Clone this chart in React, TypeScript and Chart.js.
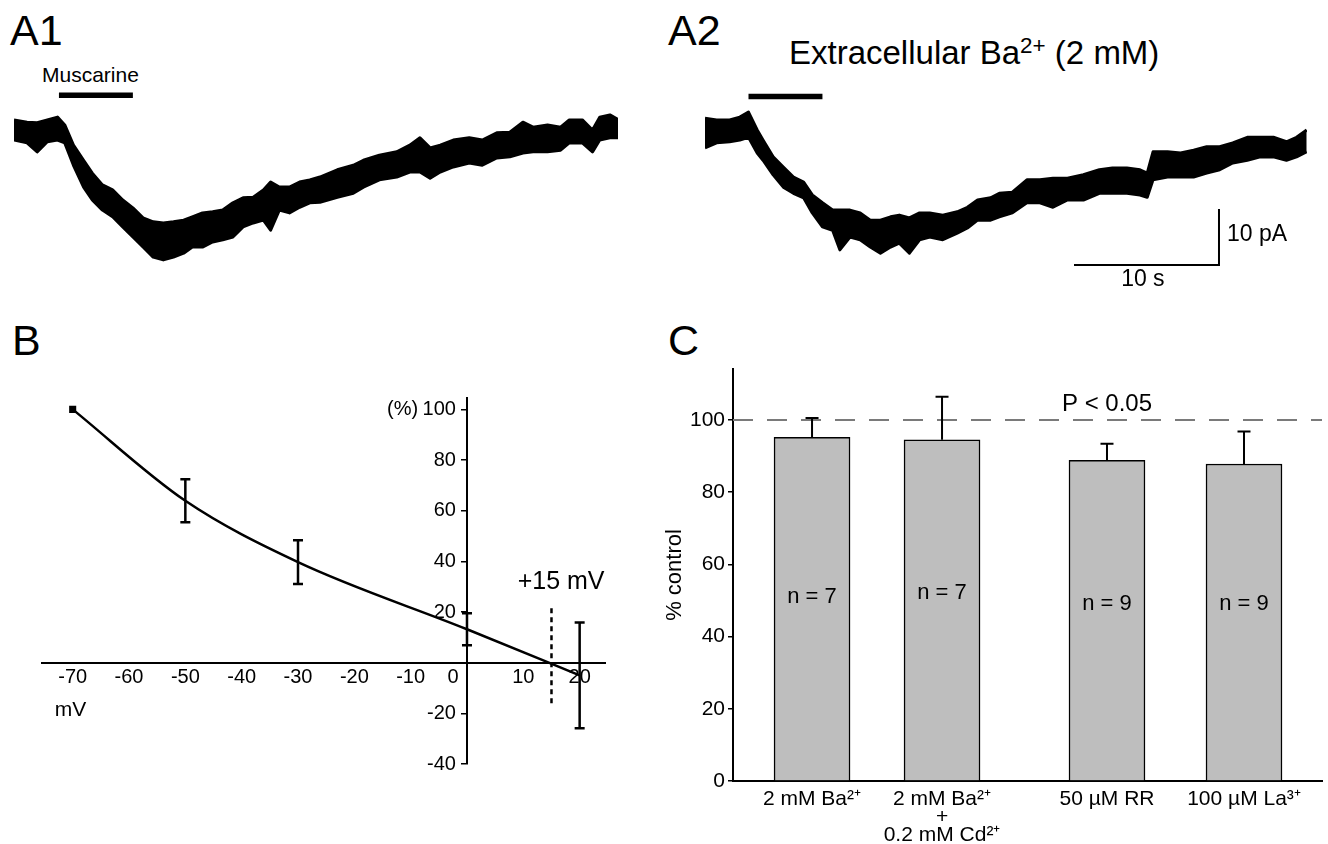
import React, { useEffect, useRef } from 'react';
import { Chart, registerables } from 'chart.js';

Chart.register(...registerables);

const FONT = '"Liberation Sans", Arial, Helvetica, sans-serif';
Chart.defaults.font.family = FONT;
Chart.defaults.color = '#000';

// ---------- Panel A1: muscarine response (time in s, current in pA; upper / lower edge of the noisy trace)
const a1Time = [0, 0.9, 1.6, 2.3, 3.0, 3.5, 4.1, 4.8, 5.4, 6.1, 6.8, 7.5, 8.2, 8.9, 9.6, 10.3, 11.0, 11.7, 12.3, 13.0, 13.7, 14.4, 15.1, 15.8, 16.5, 17.2, 17.7, 18.3, 19.0, 19.7, 20.4, 21.1, 22.3, 23.4, 24.1, 25.2, 26.4, 27.3, 28.0, 28.7, 29.4, 30.3, 31.4, 32.3, 33.3, 34.2, 35.1, 35.8, 36.8, 37.7, 38.3, 39.2, 39.9, 40.4, 41.1, 41.7];
const a1Upper = [1.8, 1.4, 1.3, 1.8, 2.3, 0.9, -2.7, -5.4, -7.7, -9.8, -10.7, -12.5, -13.9, -15.7, -16.4, -16.6, -16.4, -16.1, -15.5, -14.8, -14.6, -14.3, -13.0, -12.1, -12.0, -10.7, -9.3, -10.2, -10.2, -9.3, -8.9, -8.4, -7.1, -6.3, -5.4, -4.5, -3.9, -2.7, -1.4, -3.2, -2.7, -1.8, -1.4, -1.8, -0.5, -0.4, 1.4, 0.5, 0.9, 0.5, 1.8, 1.8, 0.0, 2.3, 2.7, 1.8];
const a1Lower = [-1.8, -2.3, -3.9, -2.1, -1.8, -2.3, -6.3, -10.2, -12.5, -14.3, -15.5, -17.3, -19.1, -20.9, -22.7, -23.2, -22.7, -22.0, -20.9, -20.9, -20.0, -19.6, -19.1, -17.3, -16.6, -16.1, -17.9, -14.3, -14.8, -13.8, -13.0, -12.9, -12.0, -11.3, -10.2, -8.9, -8.4, -7.5, -7.5, -8.6, -7.5, -6.6, -5.9, -6.3, -5.0, -4.8, -4.1, -3.9, -3.9, -3.6, -2.3, -2.3, -3.9, -1.8, -1.4, -1.4];
const a1Drug = [3.1, 8.2];
const a1DrugLevel = 6.2;

// ---------- Panel A2: response in extracellular Ba2+
const a2Time = [0, 0.8, 1.7, 2.4, 3.0, 3.6, 4.0, 4.7, 5.4, 6.1, 6.8, 7.4, 8.1, 8.8, 9.3, 10.0, 10.7, 11.4, 12.1, 12.8, 13.4, 14.1, 14.8, 15.5, 16.4, 17.4, 18.1, 18.8, 19.7, 20.3, 21.2, 22.2, 23.1, 24.0, 25.0, 26.1, 27.2, 28.1, 29.1, 30.0, 30.5, 30.9, 31.9, 32.8, 33.7, 34.6, 35.5, 36.4, 37.4, 38.3, 39.2, 40.1, 40.8, 41.5];
const a2Upper = [2.1, 1.8, 1.8, 2.3, 3.2, 0.0, -1.8, -4.8, -6.6, -8.4, -9.3, -11.6, -13.0, -14.3, -14.3, -14.3, -14.8, -16.1, -16.1, -15.5, -15.2, -15.7, -14.8, -14.8, -15.2, -14.6, -13.8, -12.5, -12.1, -11.3, -11.1, -8.9, -8.9, -8.6, -8.6, -8.0, -7.1, -6.8, -6.8, -7.1, -7.7, -3.9, -3.9, -4.1, -3.6, -3.0, -3.0, -2.3, -1.3, -1.3, -1.3, -2.1, -1.3, 0.0];
const a2Lower = [-3.2, -2.3, -2.1, -1.8, -1.3, -4.1, -5.4, -8.0, -10.2, -11.3, -12.1, -14.8, -17.3, -17.9, -21.4, -19.1, -19.6, -20.9, -22.0, -20.9, -20.2, -22.0, -19.6, -19.1, -19.6, -18.4, -17.5, -16.1, -16.1, -15.5, -14.8, -13.0, -13.0, -13.8, -12.5, -12.5, -11.3, -11.3, -11.3, -11.6, -12.0, -8.9, -8.4, -8.4, -8.4, -7.7, -7.1, -5.9, -5.4, -4.8, -4.8, -5.4, -4.8, -3.9];
const a2Drug = [3.0, 8.1];
const a2DrugLevel = 6.0;
const scaleBarTime = [25.45, 35.45, 35.45];
const scaleBarCurrent = [-24.1, -24.1, -14.1];

// ---------- Panel B: I-V relation
const bVoltage = [-70, -50, -30, 0, 20];
const bPercent = [100, 63.9, 39.7, 13.2, -5];
const bErrVoltage = [-50, -30, 0, 20];
const bErrMean = [63.9, 39.7, 13.2, -5];
const bErrSem = [8.5, 8.6, 6.3, 20.9];
const bReversal = 15;
const bReversalSpan = [21.5, -16];
const bXTicks = [-70, -60, -50, -40, -30, -20, -10, 0, 10, 20];
const bYTicks = [-40, -20, 20, 40, 60, 80, 100];

// ---------- Panel C: % control
const cLabels: (string | string[])[] = ['2 mM Ba²⁺', ['2 mM Ba²⁺', '+', '0.2 mM Cd²⁺'], '50 µM RR', '100 µM La³⁺'];
const cMean = [95.2, 94.5, 88.8, 87.8];
const cSem = [5.3, 11.9, 4.6, 9.0];
const cN = ['n = 7', 'n = 7', 'n = 9', 'n = 9'];
const cNLevel = [51, 52, 49, 49];
const cYTicks = [0, 20, 40, 60, 80, 100];
const cControl = 100;
// horizontal slot of each bar (in bar-spacing units)
const cX = [0.608, 1.608, 2.877, 3.931];

type TextItem = { text: string; x: number; y: number; size: number; align?: CanvasTextAlign };

function textPlugin(items: TextItem[]) {
  return {
    id: 'texts',
    afterDraw(chart: any) {
      const ctx = chart.ctx;
      ctx.save();
      for (const it of items) {
        const px = chart.scales.x.getPixelForValue(it.x);
        const py = chart.scales.y.getPixelForValue(it.y);
        ctx.font = `${it.size}px ${FONT}`;
        ctx.fillStyle = '#000';
        ctx.textAlign = it.align || 'center';
        ctx.textBaseline = 'middle';
        ctx.fillText(it.text, px, py);
      }
      ctx.restore();
    },
  };
}

function errorBarPlugin(xs: number[], means: number[], errs: number[], both: boolean, cap: number, width: number) {
  return {
    id: 'errbars',
    afterDatasetsDraw(chart: any) {
      const { ctx } = chart;
      const x = chart.scales.x;
      const y = chart.scales.y;
      ctx.save();
      ctx.strokeStyle = '#000';
      ctx.lineWidth = width;
      ctx.lineCap = 'butt';
      xs.forEach((xv, i) => {
        const px = x.getPixelForValue(xv);
        const top = y.getPixelForValue(means[i] + errs[i]);
        const bot = y.getPixelForValue(both ? means[i] - errs[i] : means[i]);
        ctx.beginPath();
        ctx.moveTo(px, top);
        ctx.lineTo(px, bot);
        ctx.moveTo(px - cap / 2, top);
        ctx.lineTo(px + cap / 2, top);
        if (both) {
          ctx.moveTo(px - cap / 2, bot);
          ctx.lineTo(px + cap / 2, bot);
        }
        ctx.stroke();
      });
      ctx.restore();
    },
  };
}

const pts = (xs: number[], ys: number[]) => xs.map((x, i) => ({ x, y: ys[i] }));

const baseOptions = {
  responsive: false,
  animation: false as const,
  devicePixelRatio: 1,
  events: [] as any[],
  plugins: { legend: { display: false }, tooltip: { enabled: false } },
};

function traceConfig(time: number[], upper: number[], lower: number[], drug: number[], level: number, extra: any[], texts: TextItem[], tMax: number) {
  return {
    type: 'line',
    data: {
      datasets: [
        { data: pts(time, upper), borderColor: '#000', backgroundColor: '#000', borderWidth: 3, borderJoinStyle: 'round', fill: '+1', pointRadius: 0, tension: 0 },
        { data: pts(time, lower), borderColor: '#000', borderWidth: 3, borderJoinStyle: 'round', fill: false, pointRadius: 0, tension: 0 },
        { data: pts(drug, [level, level]), borderColor: '#000', borderWidth: 5.5, borderCapStyle: 'butt', pointRadius: 0, fill: false },
        ...extra,
      ],
    },
    options: {
      ...baseOptions,
      layout: { padding: 0 },
      scales: {
        x: { type: 'linear', display: false, min: 0, max: tMax },
        y: { type: 'linear', display: false, min: -30, max: 10 },
      },
    },
    plugins: [textPlugin(texts)],
  };
}

function makeA1() {
  return traceConfig(a1Time, a1Upper, a1Lower, a1Drug, a1DrugLevel, [], [], 41.66);
}

function makeA2() {
  const bar = { data: pts(scaleBarTime, scaleBarCurrent), borderColor: '#000', borderWidth: 2, pointRadius: 0, fill: false, tension: 0 };
  return traceConfig(a2Time, a2Upper, a2Lower, a2Drug, a2DrugLevel, [bar], [
    { text: '10 pA', x: 36.0, y: -18.75, size: 23, align: 'left' },
    { text: '10 s', x: 30.2, y: -26.8, size: 23 },
  ], 41.52);
}

function makeB() {
  return {
    type: 'line',
    data: {
      datasets: [
        {
          data: pts(bVoltage, bPercent), borderColor: '#000', backgroundColor: '#000', borderWidth: 2.5,
          cubicInterpolationMode: 'monotone', pointStyle: 'rect', pointRadius: [5, 0, 0, 0, 0], pointBorderWidth: 0, fill: false,
        },
        {
          data: pts([bReversal, bReversal], bReversalSpan), borderColor: '#000', borderWidth: 2.5, borderDash: [5, 4], pointRadius: 0, fill: false,
        },
      ],
    },
    options: {
      ...baseOptions,
      layout: { padding: { left: 41.7, right: 35, top: 98, bottom: 36 } },
      scales: {
        x: {
          type: 'linear', min: -75.5, max: 24.5, position: { y: 0 },
          afterBuildTicks: (s: any) => { s.ticks = bXTicks.map((v) => ({ value: v })); },
          afterFit: (s: any) => { s.height = 0; },
          ticks: { autoSkip: false, maxRotation: 0, padding: 3, font: { size: 20 }, callback: (v: number) => (v === 0 ? '0     ' : String(v)) },
          grid: { display: false, drawTicks: false },
          border: { display: true, color: '#000', width: 2 },
        },
        y: {
          type: 'linear', min: -40, max: 104.5, position: { x: 0 },
          afterBuildTicks: (s: any) => { s.ticks = bYTicks.map((v) => ({ value: v })); },
          afterFit: (s: any) => { s.width = 0; },
          ticks: { autoSkip: false, font: { size: 20 }, callback: (v: number) => `${v}  ` },
          grid: { drawOnChartArea: false, drawTicks: true, tickLength: 5, color: '#000', lineWidth: 1.5 },
          border: { display: true, color: '#000', width: 2 },
        },
      },
    },
    plugins: [
      errorBarPlugin(bErrVoltage, bErrMean, bErrSem, true, 10, 2.5),
      textPlugin([
        { text: '(%)', x: -8.66, y: 100, size: 20, align: 'right' },
        { text: 'mV', x: -70.4, y: -18.7, size: 21 },
        { text: '+15 mV', x: 16.7, y: 32, size: 25 },
      ]),
    ],
  };
}

function makeC() {
  return {
    type: 'bar',
    data: {
      datasets: [
        {
          type: 'bar', data: pts(cX, cMean), backgroundColor: '#bebebe', borderColor: '#000', borderWidth: 1.5,
          barThickness: 76, order: 2,
        },
        {
          type: 'line', data: pts([0, 4.531], [cControl, cControl]), borderColor: '#7a7a7a', borderWidth: 2,
          borderDash: [20, 14], pointRadius: 0, fill: false, order: 1,
        },
      ],
    },
    options: {
      ...baseOptions,
      layout: { padding: { left: 0, right: 6, top: 39, bottom: 0 } },
      scales: {
        x: {
          type: 'linear', min: 0, max: 4.531, offset: false,
          afterBuildTicks: (s: any) => { s.ticks = cX.map((v) => ({ value: v })); },
          afterFit: (s: any) => { s.height = 63; },
          ticks: {
            autoSkip: false, maxRotation: 0, padding: 9, font: { size: 21, lineHeight: 0.86 },
            callback: (v: number) => cLabels[cX.indexOf(v)],
          },
          grid: { display: false, drawTicks: false },
          border: { display: true, color: '#000', width: 2 },
        },
        y: {
          type: 'linear', min: 0, max: 114.1,
          afterBuildTicks: (s: any) => { s.ticks = cYTicks.map((v) => ({ value: v })); },
          afterFit: (s: any) => { s.width = 73; },
          ticks: { autoSkip: false, padding: 3, font: { size: 21 } },
          grid: { drawOnChartArea: false, drawTicks: true, tickLength: 5, color: '#000', lineWidth: 1.5 },
          border: { display: true, color: '#000', width: 2 },
          title: { display: true, text: '% control', font: { size: 22 }, padding: { top: 2, bottom: 0 } },
        },
      },
    },
    plugins: [
      errorBarPlugin(cX, cMean, cSem, false, 13, 2),
      textPlugin([
        { text: 'P < 0.05', x: 2.877, y: 104.2, size: 24 },
        ...cX.map((x, i) => ({ text: cN[i], x, y: cNLevel[i], size: 22 })),
      ]),
    ],
  };
}

function ChartBox({ left, top, width, height, make }: { left: number; top: number; width: number; height: number; make: () => any }) {
  const ref = useRef<HTMLCanvasElement>(null);
  useEffect(() => {
    const chart = new Chart(ref.current as HTMLCanvasElement, make());
    return () => chart.destroy();
  }, []);
  return (
    <canvas
      ref={ref}
      width={width}
      height={height}
      style={{ position: 'absolute', left, top, width, height }}
    />
  );
}

function Label({ x, baseline, size, children }: { x: number; baseline: number; size: number; children: React.ReactNode }) {
  return (
    <div
      style={{
        position: 'absolute', left: x, top: baseline - 0.8465 * size, fontSize: size, lineHeight: 1,
        fontFamily: FONT, color: '#000', whiteSpace: 'nowrap',
      }}
    >
      {children}
    </div>
  );
}

export default function App() {
  return (
    <div style={{ position: 'absolute', left: 0, top: 0, width: 1328, height: 844, background: '#fff', overflow: 'hidden' }}>
      <Label x={10} baseline={45} size={43}>A1</Label>
      <Label x={668} baseline={45} size={43}>A2</Label>
      <Label x={42} baseline={82} size={21}>Muscarine</Label>
      <Label x={789} baseline={64} size={33}>
        Extracellular Ba<sup style={{ fontSize: '0.68em', verticalAlign: '0.5em', lineHeight: 0 }}>2+</sup> (2 mM)
      </Label>
      <Label x={12} baseline={355} size={43}>B</Label>
      <Label x={668} baseline={355} size={43}>C</Label>
      <ChartBox left={14} top={74} width={604} height={224} make={makeA1} />
      <ChartBox left={705} top={74} width={602} height={224} make={makeA2} />
      <ChartBox left={0} top={300} width={640} height={500} make={makeB} />
      <ChartBox left={660} top={330} width={668} height={514} make={makeC} />
    </div>
  );
}
